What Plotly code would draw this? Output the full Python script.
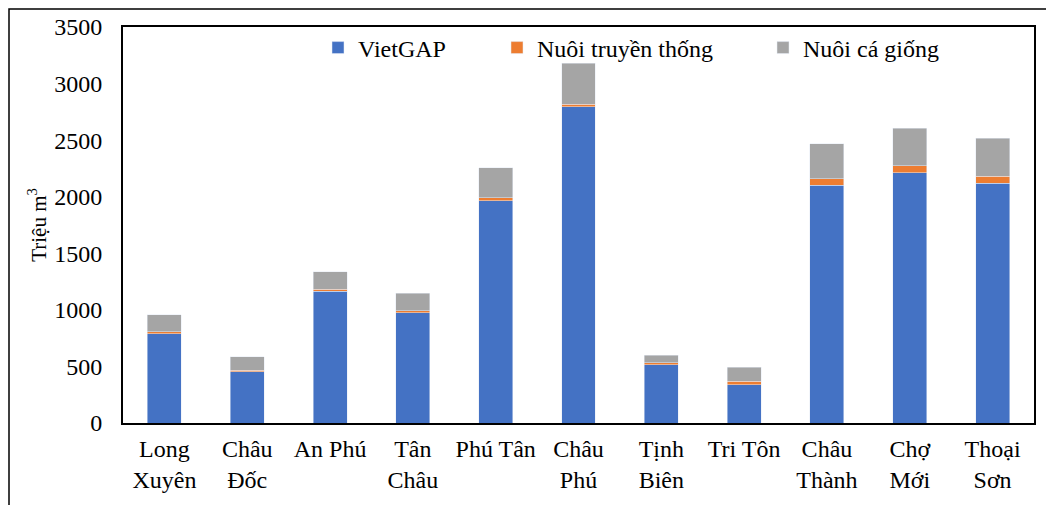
import plotly.graph_objects as go

categories = ["Long<br>Xuyên", "Châu<br>Đốc", "An Phú", "Tân<br>Châu", "Phú Tân", "Châu<br>Phú",
              "Tịnh<br>Biên", "Tri Tôn", "Châu<br>Thành", "Chợ<br>Mới", "Thoại<br>Sơn"]
vietgap = [790, 451, 1164, 975, 1965, 2795, 513, 339, 2103, 2212, 2118]
truyen_thong = [15, 15, 18, 15, 26, 21, 18, 30, 56, 62, 65]
ca_giong = [150, 120, 153, 156, 265, 363, 70, 123, 307, 331, 333]
y_ticks = [0, 500, 1000, 1500, 2000, 2500, 3000, 3500]

FONT = "Liberation Serif, Times New Roman, serif"
FS = 24
PW = 911  # plot width in px
PH = 396  # plot height in px

fig = go.Figure()
fig.add_trace(go.Bar(x=categories, y=vietgap, name="VietGAP", marker_color="#4472C4", legend="legend"))
fig.add_trace(go.Bar(x=categories, y=truyen_thong, name="Nuôi truyền thống", marker_color="#ED7D31", legend="legend2"))
fig.add_trace(go.Bar(x=categories, y=ca_giong, name="Nuôi cá giống", marker_color="#A5A5A5", legend="legend3"))

leg_common = dict(orientation="h", yanchor="middle", xanchor="left", y=0.947,
                  font=dict(family=FONT, size=FS, color="black"), bgcolor="rgba(0,0,0,0)",
                  itemwidth=30)
fig.update_layout(
    barmode="stack",
    bargap=0.59,
    width=1054, height=505,
    margin=dict(l=115, r=28, t=19, b=90),
    paper_bgcolor="white", plot_bgcolor="white",
    font=dict(family=FONT, size=FS, color="black"),
    legend=dict(x=(318 - 123) / PW, **leg_common),
    legend2=dict(x=(497 - 123) / PW, **leg_common),
    legend3=dict(x=(763 - 123) / PW, **leg_common),
    xaxis=dict(showline=True, linecolor="black", linewidth=2, mirror=True, ticks="",
               automargin=False, ticklabelstandoff=3,
               tickfont=dict(family=FONT, size=FS, color="black")),
    yaxis=dict(range=[0, 3500], tickvals=y_ticks, showgrid=False, showline=True,
               linecolor="black", linewidth=2, mirror=True, ticks="",
               automargin=False, ticklabelstandoff=14,
               tickfont=dict(family=FONT, size=FS, color="black"),
               title=dict(text="Triệu m<sup>3</sup>", font=dict(family=FONT, size=21, color="black"),
                          standoff=2)),
    showlegend=True,
)
fig.add_shape(type="rect", xref="paper", yref="paper",
              x0=(1 - 115) / PW, x1=1.06, y0=-0.3, y1=(415 - 1) / PH,
              line=dict(color="black", width=1.5), fillcolor="rgba(0,0,0,0)", layer="below")
fig.write_html("out.html")
